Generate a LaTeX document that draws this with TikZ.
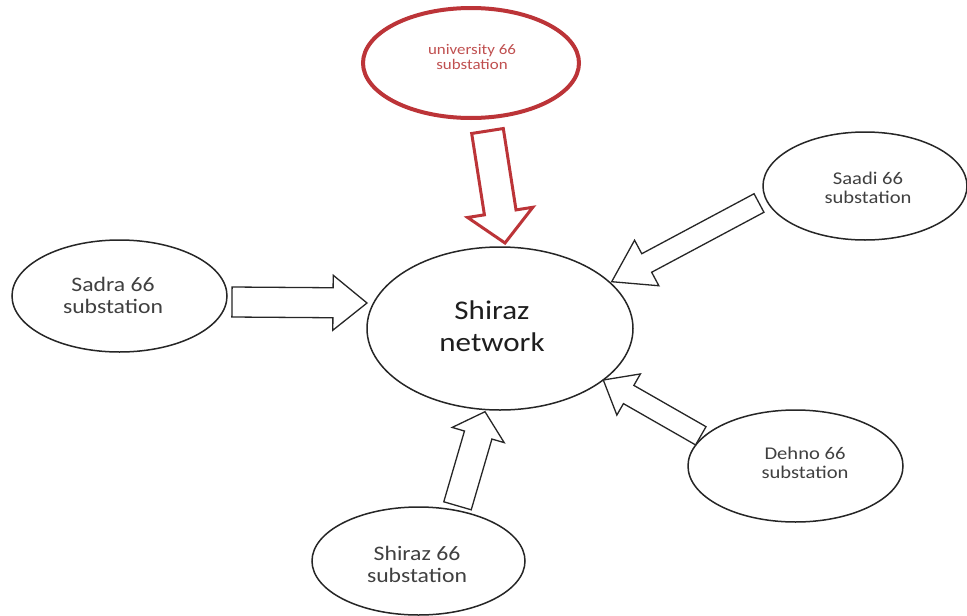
\documentclass[tikz,border=0pt]{standalone}
\usepackage{fontspec}
\newfontfamily\lblfont[FakeStretch=1.15]{Carlito}
\usetikzlibrary{shapes.geometric,calc}
\definecolor{redline}{RGB}{188,52,56}
\definecolor{redtext}{RGB}{192,80,80}
\definecolor{txtgray}{RGB}{64,64,64}
\definecolor{txtdark}{RGB}{30,30,30}
\newcommand\blkarrow[6]{%
  \coordinate (bab) at ($(#3)!#6!(#2)$);
  \draw[#1] ($(#2)!#4!90:(#3)$) -- ($(bab)!#4!-90:(#2)$) -- ($(bab)!#5!-90:(#2)$) -- (#3)
    -- ($(bab)!#5!90:(#2)$) -- ($(bab)!#4!90:(#2)$) -- ($(#2)!#4!-90:(#3)$) -- cycle;}
\begin{document}
\begin{tikzpicture}[x=1pt,y=-1pt,
  ell/.style={ellipse,draw=black!85,line width=1.5pt,inner sep=0pt,outer sep=0pt,fill=white},
  bigtxt/.style={align=center,text=txtdark,font=\lblfont\fontsize{27}{32}\selectfont,inner sep=0pt},
  midtxt/.style={align=center,text=txtgray,font=\lblfont\fontsize{20.6}{22}\selectfont,inner sep=0pt},
  smtxt/.style={align=center,text=txtgray,font=\lblfont\fontsize{17.9}{19.5}\selectfont,inner sep=0pt},
  redtxt/.style={align=center,text=redtext,font=\lblfont\fontsize{14.7}{15}\selectfont,inner sep=0pt},
  blkarr/.style={draw=black!85,line width=1.3pt,fill=white},
  redarr/.style={draw=redline,line width=3pt,fill=white}]
\useasboundingbox (0,0) rectangle (967,616);
\fill[white] (0,0) rectangle (967,616);
% ellipses
\node[ell, minimum width=266pt, minimum height=163pt] (net) at (500,328.5) {};
\node[ell, minimum width=215pt, minimum height=112pt] (sadra) at (119.5,296) {};
\node[ell, minimum width=204pt, minimum height=108pt] (saadi) at (865,186) {};
\node[ell, minimum width=215pt, minimum height=112pt] (dehno) at (795.5,466) {};
\node[ell, minimum width=213pt, minimum height=108pt] (shz) at (418.5,561) {};
\node[ell, draw=redline, line width=4pt, minimum width=216pt, minimum height=110pt] (univ) at (471,63) {};
% labels
\node[bigtxt] (netlbl) at (492,326) {Shiraz\\network};
\node[midtxt] (sadralbl) at (113,295) {Sadra 66\\substation};
\node[smtxt] (saadilbl) at (868,188) {Saadi 66\\substation};
\node[smtxt] (dehnolbl) at (805,463) {Dehno 66\\substation};
\node[midtxt] (shzlbl) at (417,564) {Shiraz 66\\substation};
\node[redtxt] (univlbl) at (472,57) {university 66\\substation};
% arrow ends
\coordinate (a1t) at (232,302);   \coordinate (a1h) at (367,303);
\coordinate (a2t) at (759,203);   \coordinate (a2h) at (611.7,281.7);
\coordinate (a3t) at (700.8,435.8); \coordinate (a3h) at (603.3,380);
\coordinate (a4t) at (457.5,505.8); \coordinate (a4h) at (485,411.7);
\coordinate (a5t) at (487.5,131); \coordinate (a5h) at (505,243);
% block arrows
\blkarrow{blkarr}{a1t}{a1h}{15pt}{27.5pt}{34pt}
\blkarrow{blkarr}{a2t}{a2h}{10.5pt}{25.8pt}{39.7pt}
\blkarrow{blkarr}{a3t}{a3h}{10.5pt}{23.7pt}{29.2pt}
\blkarrow{blkarr}{a4t}{a4h}{14.3pt}{27.1pt}{24.3pt}
\blkarrow{redarr}{a5t}{a5h}{16pt}{33pt}{31pt}
\end{tikzpicture}
\end{document}
